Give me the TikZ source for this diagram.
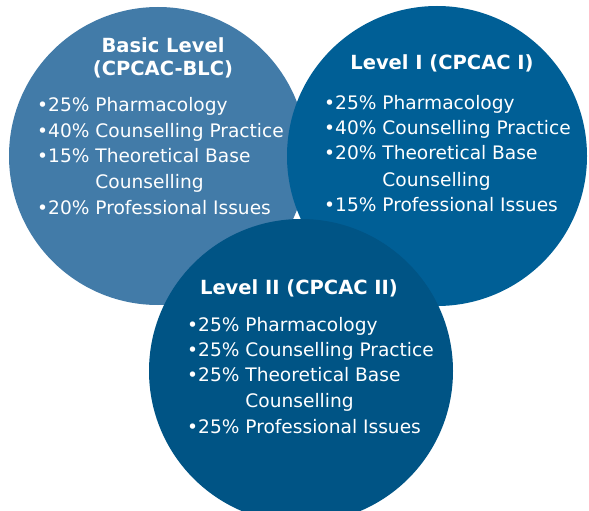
\documentclass[tikz,border=0pt]{standalone}
\usepackage{fontspec}
\setmainfont{DejaVu Sans}
\definecolor{cOne}{RGB}{66,123,168}
\definecolor{cTwo}{RGB}{0,95,150}
\definecolor{cThree}{RGB}{0,84,133}
\tikzset{
  disc/.style={circle, inner sep=0pt, draw=none},
  head/.style={text=white, inner sep=0pt, anchor=base, font=\fontsize{19.5}{22}\selectfont\bfseries},
  item/.style={text=white, inner sep=0pt, anchor=base west, font=\fontsize{18.6}{22}\selectfont},
}
\newcommand{\hang}[1]{\phantom{#1}}
\begin{document}
\begin{tikzpicture}[x=1pt,y=-1pt]
\useasboundingbox (0,0) rectangle (589,511);
\clip (0,0) rectangle (589,511);
\node[disc, fill=cOne, minimum size=298pt] (c1) at (158,156) {};
\node[disc, fill=cTwo, minimum size=300pt] (c2) at (437,156) {};
\node[disc, fill=cThree, minimum size=304pt] (c3) at (301,371) {};
% circle 1
\node[head] (h1a) at (163,53) {Basic Level};
\node[head] (h1b) at (163,75) {(CPCAC-BLC)};
\node[item] (a1) at (37,111) {•25\% Pharmacology};
\node[item] (a2) at (37,137) {•40\% Counselling Practice};
\node[item] (a3) at (37,162) {•15\% Theoretical Base};
\node[item] (a4) at (37,188) {\hang{•15\% }Counselling};
\node[item] (a5) at (37,214) {•20\% Professional Issues};
% circle 2
\node[head] (h2) at (442,70) {Level I (CPCAC I)};
\node[item] (b1) at (324,109) {•25\% Pharmacology};
\node[item] (b2) at (324,134) {•40\% Counselling Practice};
\node[item] (b3) at (324,159) {•20\% Theoretical Base};
\node[item] (b4) at (324,186) {\hang{•20\% }Counselling};
\node[item] (b5) at (324,211) {•15\% Professional Issues};
% circle 3
\node[head] (h3) at (299,294) {Level II (CPCAC II)};
\node[item] (d1) at (187,331) {•25\% Pharmacology};
\node[item] (d2) at (187,356) {•25\% Counselling Practice};
\node[item] (d3) at (187,381) {•25\% Theoretical Base};
\node[item] (d4) at (187,407) {\hang{•25\% }Counselling};
\node[item] (d5) at (187,433) {•25\% Professional Issues};
\end{tikzpicture}
\end{document}
